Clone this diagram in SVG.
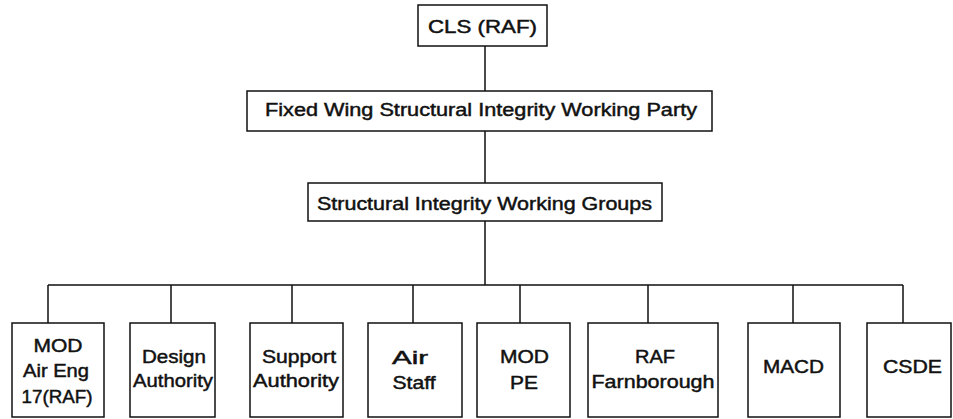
<svg xmlns="http://www.w3.org/2000/svg" width="953" height="419" viewBox="0 0 953 419">
<style>
.box{fill:#fff;stroke:#111;stroke-width:1.5}
.ln{fill:none;stroke:#111;stroke-width:1.5}
text{font-family:"Liberation Sans",Arial,Helvetica,sans-serif;font-size:17.5px;fill:#111;stroke:#111;stroke-width:0.45;text-anchor:middle}
</style>
<rect width="953" height="419" fill="#fff"/>
<g id="connectors">
<path class="ln" d="M485 46V91M485 131V183M485 221V285M48 285H903M48 285V323M171 285V323M292 285V323M413 285V323M520 285V323M648 285V323M793 285V323M903 285V323"/>
</g>
<g id="cls"><rect class="box" x="418" y="5" width="129" height="41"/><text x="482.5" y="33" textLength="109" lengthAdjust="spacingAndGlyphs">CLS  (RAF)</text></g>
<g id="fwsiwp"><rect class="box" x="247" y="91" width="465" height="40"/><text x="481" y="116" textLength="432" lengthAdjust="spacingAndGlyphs">Fixed Wing Structural Integrity Working Party</text></g>
<g id="siwg"><rect class="box" x="308" y="183" width="354" height="38"/><text x="484.5" y="210" textLength="335" lengthAdjust="spacingAndGlyphs">Structural Integrity Working Groups</text></g>
<g id="mod-aireng"><rect class="box" x="12" y="323" width="92" height="94"/>
<text x="58" y="352" textLength="49" lengthAdjust="spacingAndGlyphs">MOD</text>
<text x="56" y="377" textLength="66" lengthAdjust="spacingAndGlyphs">Air Eng</text>
<text x="57" y="403" textLength="71" lengthAdjust="spacingAndGlyphs">17(RAF)</text></g>
<g id="design"><rect class="box" x="130" y="323" width="85" height="94"/>
<text x="174" y="363" textLength="64" lengthAdjust="spacingAndGlyphs">Design</text>
<text x="173" y="387" textLength="80" lengthAdjust="spacingAndGlyphs">Authority</text></g>
<g id="support"><rect class="box" x="250" y="323" width="93" height="94"/>
<text x="299" y="363" textLength="74" lengthAdjust="spacingAndGlyphs">Support</text>
<text x="296" y="387" textLength="86" lengthAdjust="spacingAndGlyphs">Authority</text></g>
<g id="airstaff"><rect class="box" x="368" y="323" width="94" height="94"/>
<text x="410" y="364" textLength="36" lengthAdjust="spacingAndGlyphs">Air</text>
<text x="414" y="389" textLength="43" lengthAdjust="spacingAndGlyphs">Staff</text></g>
<g id="modpe"><rect class="box" x="477" y="323" width="93" height="94"/>
<text x="524.5" y="363" textLength="49" lengthAdjust="spacingAndGlyphs">MOD</text>
<text x="524" y="389" textLength="28" lengthAdjust="spacingAndGlyphs">PE</text></g>
<g id="raf-farnborough"><rect class="box" x="588" y="323" width="130" height="94"/>
<text x="655" y="363" textLength="40" lengthAdjust="spacingAndGlyphs">RAF</text>
<text x="653" y="388" textLength="123" lengthAdjust="spacingAndGlyphs">Farnborough</text></g>
<g id="macd"><rect class="box" x="748" y="323" width="92" height="94"/>
<text x="793.5" y="373" textLength="61" lengthAdjust="spacingAndGlyphs">MACD</text></g>
<g id="csde"><rect class="box" x="867" y="323" width="84" height="94"/>
<text x="912.5" y="373" textLength="59" lengthAdjust="spacingAndGlyphs">CSDE</text></g>
</svg>
